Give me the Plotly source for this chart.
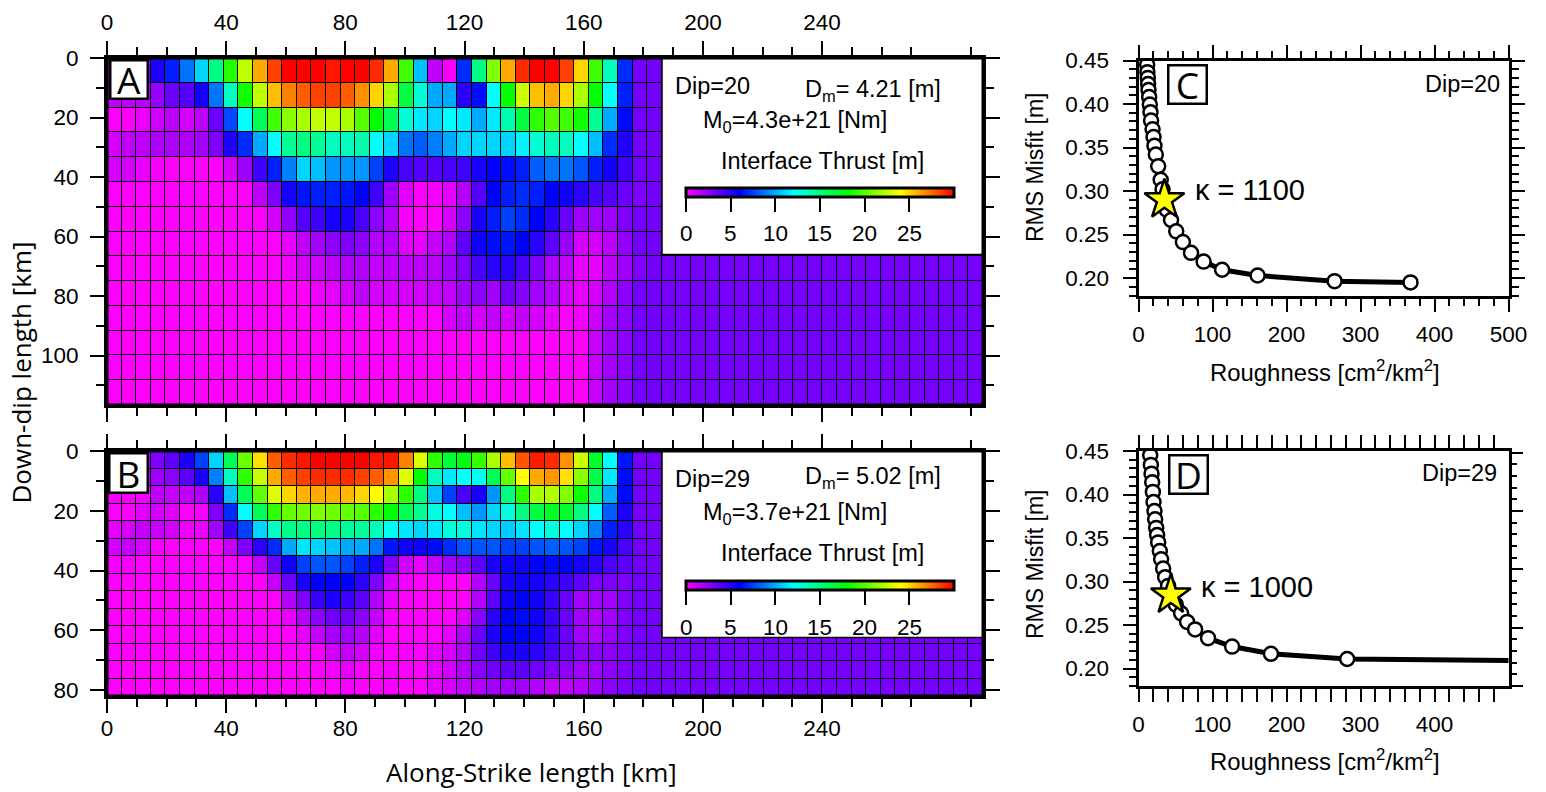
import plotly.graph_objects as go

W, H = 1546, 792

# ---- Slip values [m], 14 rows x 60 columns (cols hidden by insets estimated) ----
slip_A = [
 [1.0,1.0,3.0,5.3,6.7,8.7,11,15,18.8,22.5,26,28.5,30,30,30,29.5,30,30,29,26,19.5,10.5,1.5,0.2,7,15,21,26,29,30,30,28.5,25,19.5,13.5,7,3.3,3.3,3.2,3.2,3.2,3.2,3.2,3.2,3.2,3.2,3.2,3.2,3.2,3.2,3.2,3.2,3.2,3.2,3.2,3.2,3.2,3.2,3.2,3.2],
 [1.5,1.5,1.5,2.5,3.5,4,5.5,8.7,13.5,18.3,22.5,25.5,27,27.8,28.5,28.5,27.8,26.6,25,22,16.5,13,10,10,5,6.3,12,18,22.8,25.5,26,25,22,18,12,6.7,3.3,3.3,3.2,3.2,3.2,3.2,3.2,3.2,3.2,3.2,3.2,3.2,3.2,3.2,3.2,3.2,3.2,3.2,3.2,3.2,3.2,3.2,3.2,3.2],
 [0,0,0.5,1.1,1.5,1,1.5,3.5,7.7,12,16,19.5,21.2,22,22.5,22.5,22,20,18,16,13,11.5,11,12,11.5,10,11.5,14,16.5,19,20,19.5,18.5,14.5,10,6.2,3.3,3.3,3.2,3.2,3.2,3.2,3.2,3.2,3.2,3.2,3.2,3.2,3.2,3.2,3.2,3.2,3.2,3.2,3.2,3.2,3.2,3.2,3.2,3.2],
 [1,1.5,1.5,1.9,1.9,1.9,2.2,3,5.3,7,10,12,14.5,15,14.5,13.5,13.5,14,12,11,8.7,8.2,9,10,11,11,11,11,11.8,13,13.5,13.5,12,10.5,7,5.2,3.3,3.3,3.2,3.2,3.2,3.2,3.2,3.2,3.2,3.2,3.2,3.2,3.2,3.2,3.2,3.2,3.2,3.2,3.2,3.2,3.2,3.2,3.2,3.2],
 [1,1,0.5,0.2,0,0,0,0,1,2.3,4.5,6.7,9,11,10.5,9.5,9.5,9.5,7.5,5.3,4.3,4,4,4.3,4.5,5.4,6,6.3,6.7,8.2,8.7,8.7,8,6.7,5.6,4.5,3.3,3.3,3.2,3.2,3.2,3.2,3.2,3.2,3.2,3.2,3.2,3.2,3.2,3.2,3.2,3.2,3.2,3.2,3.2,3.2,3.2,3.2,3.2,3.2],
 [0,0,0,0,0,0,0,0,0,0,1.5,3,5.5,6.5,6.7,6.7,6.5,6,4.5,2.3,0.7,0,0.2,0.6,1.8,4,6,6.7,7,6.7,6,5.6,5,4.3,4,3.5,3,3.3,3.2,3.2,3.2,3.2,3.2,3.2,3.2,3.2,3.2,3.2,3.2,3.2,3.2,3.2,3.2,3.2,3.2,3.2,3.2,3.2,3.2,3.2],
 [0,0,0,0,0,0,0,0,0,0,0,1,2.6,4,4.5,5.5,5.3,4.3,2.7,1.8,0.2,0,0,1,2.7,5.4,6.7,7.5,7,6,5,3.5,2.3,2.2,2.3,3,3.3,3.3,3.2,3.2,3.2,3.2,3.2,3.2,3.2,3.2,3.2,3.2,3.2,3.2,3.2,3.2,3.2,3.2,3.2,3.2,3.2,3.2,3.2,3.2],
 [0,0,0,0,0,0,0,0,0,0,0,0,0.6,1.5,2.2,2.7,3,2.7,1.8,1.8,0.7,0.6,1.4,1.8,3.8,5.6,6.3,6.5,6,5,3.8,2.4,1,1,1.5,2.6,3.3,3.3,3.2,3.2,3.2,3.2,3.2,3.2,3.2,3.2,3.2,3.2,3.2,3.2,3.2,3.2,3.2,3.2,3.2,3.2,3.2,3.2,3.2,3.2],
 [0,0,0,0,0,0,0,0,0,0,0,0,0.3,1,1.1,1.5,1.8,1.8,1.5,1.5,1.5,1.5,1.6,2.2,3,4.3,5,5,4.3,3,1.8,1.4,0.6,0.6,1.5,2.3,3,3.3,3.2,3.2,3.2,3.2,3.2,3.2,3.2,3.2,3.2,3.2,3.2,3.2,3.2,3.2,3.2,3.2,3.2,3.2,3.2,3.2,3.2,3.2],
 [0,0,0,0,0,0,0,0,0,0,0,0,0,0,0.4,0.6,1,1.5,1,1,1,1,1.3,1.4,2.2,2.7,2.2,3.3,2.9,2.2,1.8,1,0.6,1,1.8,2.7,3.3,3.3,3.2,3.2,3.2,3.2,3.2,3.2,3.2,3.2,3.2,3.2,3.2,3.2,3.2,3.2,3.2,3.2,3.2,3.2,3.2,3.2,3.2,3.2],
 [0,0,0,0,0,0,0,0,0,0,0,0,0,0,0,0,0,0,0,0,0,0,0,1,1.4,1,1.4,1,1.4,1,0.6,0,0.3,1.2,2.2,2.7,3.3,3.3,3.2,3.2,3.2,3.2,3.2,3.2,3.2,3.2,3.2,3.2,3.2,3.2,3.2,3.2,3.2,3.2,3.2,3.2,3.2,3.2,3.2,3.2],
 [0,0,0,0,0,0,0,0,0,0,0,0,0,0,0,0,0,0,0,0,0,0,0,0,0,0,0,0,0,0,0,0,0,1.3,2.2,2.7,3.3,3.3,3.2,3.2,3.2,3.2,3.2,3.2,3.2,3.2,3.2,3.2,3.2,3.2,3.2,3.2,3.2,3.2,3.2,3.2,3.2,3.2,3.2,3.2],
 [0,0,0,0,0,0,0,0,0,0,0,0,0,0,0,0,0,0,0,0,0,0,0,0,0,0,0,0,0,0,0,0,0,1.3,2.2,2.7,3.3,3.3,3.2,3.2,3.2,3.2,3.2,3.2,3.2,3.2,3.2,3.2,3.2,3.2,3.2,3.2,3.2,3.2,3.2,3.2,3.2,3.2,3.2,3.2],
 [0,0,0,0,0,0,0,0,0,0,0,0,0,0,0,0,0,0,0,0,0,0,0,0,0,0,0,0,0,0,0,0,0,1.3,2.2,2.7,3.3,3.3,3.2,3.2,3.2,3.2,3.2,3.2,3.2,3.2,3.2,3.2,3.2,3.2,3.2,3.2,3.2,3.2,3.2,3.2,3.2,3.2,3.2,3.2],
]

slip_B = [
 [1.0,1.0,2.0,3,3.8,5.4,7.5,11,16,20.5,24.7,27.8,29,29.5,30,30,30,30,29.5,29.5,27,23.2,19,16.7,17.6,19.3,22,25.5,28,29.4,29,26.6,22.8,17,12,6.5,3.3,3.3,3.2,3.2,3.2,3.2,3.2,3.2,3.2,3.2,3.2,3.2,3.2,3.2,3.2,3.2,3.2,3.2,3.2,3.2,3.2,3.2,3.2,3.2],
 [1,1,1.5,2.3,2.7,3.9,5.4,9,13.5,19,22.7,26,27.8,28.5,29,29,29,28.5,27.8,26.5,23.2,18,13.5,11.5,12,12.3,16,20.3,24,26,26.5,24.7,21.2,16.3,11.5,6.2,3.3,3.3,3.2,3.2,3.2,3.2,3.2,3.2,3.2,3.2,3.2,3.2,3.2,3.2,3.2,3.2,3.2,3.2,3.2,3.2,3.2,3.2,3.2,3.2],
 [0.2,0.2,0.2,1.5,1.4,1.5,1.9,5,10.5,16,20.3,23.2,25,25.8,26,26,25.7,25,24,22,19,15,10.5,7.5,4.3,5.4,9.5,15,19,22,22.2,21,18.3,15,10,6.2,3.3,3.3,3.2,3.2,3.2,3.2,3.2,3.2,3.2,3.2,3.2,3.2,3.2,3.2,3.2,3.2,3.2,3.2,3.2,3.2,3.2,3.2,3.2,3.2],
 [0,0,0.7,1,0.7,0,0.2,3,7,12,16,19,20.4,20.6,21,20.6,20.3,20,19,18,16,14.5,12.8,12,10.5,9.5,11,12.8,15,16.5,17.2,17,15,12,8.2,5.3,3.3,3.3,3.2,3.2,3.2,3.2,3.2,3.2,3.2,3.2,3.2,3.2,3.2,3.2,3.2,3.2,3.2,3.2,3.2,3.2,3.2,3.2,3.2,3.2],
 [0.6,1,1.4,1.3,1,0.3,0.5,2.2,4.5,7.5,11,13.4,14.8,15,15,14.8,14.4,14.4,13.6,12.3,11.4,11,11.5,12.8,12.8,11.4,11,10.8,11.4,12,12.8,12,11,9,6.7,5,3.3,3.3,3.2,3.2,3.2,3.2,3.2,3.2,3.2,3.2,3.2,3.2,3.2,3.2,3.2,3.2,3.2,3.2,3.2,3.2,3.2,3.2,3.2,3.2],
 [1,1.4,1,0.2,0,0,0,0,1.4,3,5,7,10,11.4,11,10.6,10,10,8.7,6.5,5.7,5.7,6.2,7,8,8,8,7.5,7.5,8,8.2,8,7.5,6.5,5.4,4.3,3.3,3.3,3.2,3.2,3.2,3.2,3.2,3.2,3.2,3.2,3.2,3.2,3.2,3.2,3.2,3.2,3.2,3.2,3.2,3.2,3.2,3.2,3.2,3.2],
 [0.2,0.2,0,0,0,0,0,0,0,0,1.4,3.5,5.7,7.5,8,8,7.5,6.7,5.4,3,1.1,0.6,1.4,2.2,2.7,3.8,5.4,5.7,5.7,6,6.2,6,5.5,5,4.2,3.8,3.3,3.3,3.2,3.2,3.2,3.2,3.2,3.2,3.2,3.2,3.2,3.2,3.2,3.2,3.2,3.2,3.2,3.2,3.2,3.2,3.2,3.2,3.2,3.2],
 [0,0,0,0,0,0,0,0,0,0,0,1.4,3.5,5.4,6,6,6,5,3,1,0.3,0,0,0,0,1.8,3.5,5.4,5.7,5.5,5,4.5,3.8,3,3,3,3.3,3.3,3.2,3.2,3.2,3.2,3.2,3.2,3.2,3.2,3.2,3.2,3.2,3.2,3.2,3.2,3.2,3.2,3.2,3.2,3.2,3.2,3.2,3.2],
 [0,0,0,0,0,0,0,0,0,0,0,0,1.8,3,4.7,5.4,4.6,3.8,1.8,0.6,0,0,0,0,0,1.8,3.8,5.6,6,5.6,4.6,3.5,2.2,2.2,2.2,3,3.3,3.3,3.2,3.2,3.2,3.2,3.2,3.2,3.2,3.2,3.2,3.2,3.2,3.2,3.2,3.2,3.2,3.2,3.2,3.2,3.2,3.2,3.2,3.2],
 [0,0,0,0,0,0,0,0,0,0,0,0,0.6,1.8,2.7,3.4,3.4,2.7,1.4,0.2,0,0,0,0,0.8,2.8,5,6,6.2,5.6,4.6,3.5,2.2,1.8,2.2,3,3.3,3.3,3.2,3.2,3.2,3.2,3.2,3.2,3.2,3.2,3.2,3.2,3.2,3.2,3.2,3.2,3.2,3.2,3.2,3.2,3.2,3.2,3.2,3.2],
 [0,0,0,0,0,0,0,0,0,0,0,0,0,0.6,1.4,2.2,2.2,1.8,0.7,0,0,0,0,0.6,1.8,3.5,5.4,6,6,5.6,4.6,3.5,2.2,1.8,2.3,3,3.3,3.3,3.2,3.2,3.2,3.2,3.2,3.2,3.2,3.2,3.2,3.2,3.2,3.2,3.2,3.2,3.2,3.2,3.2,3.2,3.2,3.2,3.2,3.2],
 [0,0,0,0,0,0,0,0,0,0,0,0,0,0,0.2,1,1.4,1,0.3,0,0.2,0,0.6,1,1.8,3.4,4.5,5.3,5.4,5,4.3,3.4,2.7,2.7,2.7,3,3.3,3.3,3.2,3.2,3.2,3.2,3.2,3.2,3.2,3.2,3.2,3.2,3.2,3.2,3.2,3.2,3.2,3.2,3.2,3.2,3.2,3.2,3.2,3.2],
 [0,0,0,0,0,0,0,0,0,0,0,0,0,0,0,0.2,0.6,0.2,0,0.2,0,0,0.6,1,1.8,2.7,3.4,3.8,3.8,3.4,3,2.7,2.2,2.2,2.6,3,3.3,3.3,3.2,3.2,3.2,3.2,3.2,3.2,3.2,3.2,3.2,3.2,3.2,3.2,3.2,3.2,3.2,3.2,3.2,3.2,3.2,3.2,3.2,3.2],
 [0,0,0,0,0,0,0,0,0,0,0,0,0,0,0,0,0.2,0,0,0.2,0,0,0.6,1,1.4,1.8,2.2,2.2,2.2,1.8,1.4,1.4,1.8,2.2,2.7,3,3.3,3.3,3.2,3.2,3.2,3.2,3.2,3.2,3.2,3.2,3.2,3.2,3.2,3.2,3.2,3.2,3.2,3.2,3.2,3.2,3.2,3.2,3.2,3.2],
]
for r in slip_A + slip_B:
    assert len(r) == 60

# ---- L-curves ----
rough_C  = [9,11.7,12,12.6,13,13.5,14.4,15.3,16.2,17,19,20.3,21.6,23.4,26.6,30,32.5,35,38,44,51,60,71,88,113,161,265,367.6]
misfit_C = [0.47,0.445,0.4366,0.43,0.423,0.416,0.408,0.3994,0.3906,0.381,0.371,0.362,0.352,0.342,0.3285,0.313,0.302,0.29,0.2786,0.2667,0.2537,0.2414,0.229,0.219,0.2096,0.203,0.1965,0.195]
rough_D  = [13,15.8,16.7,17.6,18.5,19.4,20.3,21.6,22.5,23.9,25.2,26.6,28.8,30.6,33.3,36,40,43.7,50.4,57.6,65.7,76.5,94,126.5,179,282,540]
misfit_D = [0.47,0.445,0.434,0.424,0.414,0.403,0.3914,0.381,0.3715,0.3616,0.3535,0.345,0.335,0.3256,0.315,0.305,0.295,0.2846,0.2735,0.2635,0.2536,0.245,0.235,0.2253,0.217,0.211,0.209]
star_C = (35, 0.29)
star_D = (43.7, 0.2846)

xticks_map = [0, 40, 80, 120, 160, 200, 240]
xminor_map = [10, 20, 30, 50, 60, 70, 90, 100, 110, 130, 140, 150, 170, 180, 190, 210, 220, 230, 250, 260, 270, 290]
yticks_A = [0, 20, 40, 60, 80, 100]
yminor_A = [10, 30, 50, 70, 90, 110]
yticks_B = [0, 20, 40, 60, 80]
yminor_B = [10, 30, 50, 70]
cbar_ticks = [0, 5, 10, 15, 20, 25]

colors = [[0, "#ff00ff"], [0.2, "#0000ff"], [0.4, "#00ffff"], [0.6, "#00ff00"], [0.8, "#ffff00"], [1, "#ff0000"]]
SANS = "Liberation Sans"
LOGO = "Open Sans"
XMAX, YMAX_A, YMAX_B = 294.0, 116.6, 82.0


def px(x):
    return x / W


def py(y):
    return 1 - y / H


fig = go.Figure()
xc = [(i + 0.5) * XMAX / 60 for i in range(60)]
fig.add_trace(go.Heatmap(z=slip_A, x=xc, y=[(j + 0.5) * YMAX_A / 14 for j in range(14)], coloraxis="coloraxis",
                         xgap=1, ygap=1, xaxis="x", yaxis="y", hoverinfo="skip"))
fig.add_trace(go.Heatmap(z=slip_B, x=xc, y=[(j + 0.5) * YMAX_B / 14 for j in range(14)], coloraxis="coloraxis2",
                         xgap=1, ygap=1, xaxis="x2", yaxis="y2", hoverinfo="skip"))


def curve(xs, ys, star, xa, ya):
    fig.add_trace(go.Scatter(x=xs, y=ys, mode="lines", line=dict(color="black", width=5), xaxis=xa, yaxis=ya))
    fig.add_trace(go.Scatter(x=xs, y=ys, mode="markers", xaxis=xa, yaxis=ya,
                             marker=dict(size=14, color="white", line=dict(color="black", width=2.5))))
    fig.add_trace(go.Scatter(x=[star[0]], y=[star[1]], mode="markers", xaxis=xa, yaxis=ya,
                             marker=dict(symbol="star", size=30, color="#ffff00", line=dict(color="black", width=2.5))))


curve(rough_C, misfit_C, star_C, "x3", "y3")
curve(rough_D, misfit_D, star_D, "x4", "y4")
# invisible trace that carries panel D's independent right-hand tick scale
fig.add_trace(go.Scatter(x=[0], y=[0], mode="markers", marker=dict(opacity=0), xaxis="x4", yaxis="y5", hoverinfo="skip"))

base = dict(showline=True, linewidth=3, linecolor="black", showgrid=False, zeroline=False, ticks="outside",
            tickcolor="black", tickwidth=1.5, ticklen=14, tickfont=dict(family=SANS, size=22.5, color="black"),
            mirror="allticks", tickmode="array")


def minor(vals, n=8):
    return dict(tickmode="array", tickvals=vals, ticks="outside", ticklen=n, tickwidth=1.5, tickcolor="black", showgrid=False)


def mapx(x0, x1, side, standoff, anchor):
    return dict(base, domain=[px(x0), px(x1)], range=[0, XMAX], tickvals=xticks_map, minor=minor(xminor_map),
                side=side, ticklabelstandoff=standoff, anchor=anchor)


def mapy(y0, y1, ymax, vals, mvals, anchor):
    return dict(base, domain=[py(y1), py(y0)], range=[ymax, 0], tickvals=vals, minor=minor(mvals), ticklabelstandoff=7,
                anchor=anchor)


c_x = [i * 20 for i in range(26)]
c_y = [round(0.18 + i * 0.01, 2) for i in range(28)]
c_major_y = [0.20, 0.25, 0.30, 0.35, 0.40, 0.45]
c_minor_y = [v for v in c_y if v not in c_major_y]


def lcx(ticks, anchor):
    return dict(base, domain=[px(1138.5), px(1508.5)], range=[0, 500], tickvals=ticks,
                minor=minor([v for v in c_x if v % 100 != 0], 7), ticklabelstandoff=3, anchor=anchor, ticklen=13)


def lcy(y0, y1, anchor, **kw):
    d = dict(base, domain=[py(y1), py(y0)], range=[0.18, 0.45], tickvals=c_major_y, ticktext=["%.2f" % v for v in c_major_y],
             minor=minor(c_minor_y, 7), ticklabelstandoff=9, anchor=anchor, ticklen=13)
    d.update(kw)
    return d


def cbar(y):
    return dict(orientation="h", x=px(686), xanchor="left", y=py(y), yanchor="top", len=268, lenmode="pixels",
                thickness=9, thicknessmode="pixels", outlinewidth=3, outlinecolor="black", xpad=0, ypad=0,
                tickmode="array", tickvals=cbar_ticks, ticks="outside", ticklen=14, tickwidth=1.5, tickcolor="black",
                showticklabels=False)


notes = []


def note(text, x, y, size=20, family=SANS, angle=0, **kw):
    notes.append(dict(text=text, x=px(x), y=py(y), xref="paper", yref="paper", showarrow=False, xanchor="center",
                      yanchor="middle", textangle=angle, font=dict(family=family, size=size, color="black"), **kw))


def box(letter, x0, x1, y0, y1):
    notes.append(dict(text=letter, x=px((x0 + x1) / 2), y=py((y0 + y1) / 2), xref="paper", yref="paper", showarrow=False,
                      xanchor="center", yanchor="middle", width=x1 - x0 - 4, height=y1 - y0 - 4, bgcolor="white",
                      bordercolor="black", borderwidth=2.5, borderpad=0,
                      font=dict(family=LOGO, size=37, color="black")))


box("A", 109, 148, 60, 100)
box("B", 108, 148, 452, 493)
box("C", 1167, 1207, 64, 104)
box("D", 1168, 1208, 455, 495)


def inset(dip, dm, m0, yd, ydm, ym, yt, ytick):
    note("Dip=%d" % dip, 712, yd, 23.5)
    note("D<sub>m</sub>= %s [m]" % dm, 873, ydm, 23.5)
    note("M<sub>0</sub>=%s [Nm]" % m0, 795, ym, 23.5)
    note("Interface Thrust [m]", 822, yt, 23.5)
    for v in cbar_ticks:
        note(str(v), 686 + v * 268 / 30, ytick, 22.5)


inset(20, "4.21", "4.3e+21", 86, 90, 122, 161, 234)
inset(29, "5.02", "3.7e+21", 479, 477, 513, 553, 627)
note("Down-dip length [km]", 20, 372.5, 26, LOGO, -90)
note("Along-Strike length [km]", 531, 772, 26, LOGO)
note("RMS Misfit [m]", 1035, 167, 23, SANS, -90)
note("RMS Misfit [m]", 1035, 564, 23, SANS, -90)
note("Roughness [cm<sup>2</sup>/km<sup>2</sup>]", 1325, 371, 23.9)
note("Roughness [cm<sup>2</sup>/km<sup>2</sup>]", 1325, 760, 23.9)
note("Dip=20", 1462, 84, 23.5)
note("Dip=29", 1459, 473, 23.5)
note("κ = 1100", 1250, 190, 29)
note("κ = 1000", 1257, 587, 29)

shapes = []
for xa, ya in (("x", "y"), ("x2", "y2")):
    shapes.append(dict(type="rect", xref=xa + " domain", yref=ya + " domain", x0=0, x1=1, y0=0, y1=1,
                       fillcolor="black", line=dict(width=0), layer="below"))
shapes.append(dict(type="rect", xref="paper", yref="paper", x0=px(662), x1=px(983), y0=py(254.5), y1=py(58),
                   fillcolor="white", line=dict(color="black", width=1.5), layer="above"))
shapes.append(dict(type="rect", xref="paper", yref="paper", x0=px(662), x1=px(983), y0=py(637.5), y1=py(451),
                   fillcolor="white", line=dict(color="black", width=1.5), layer="above"))
for xa, ya in (("x", "y"), ("x2", "y2")):
    shapes.append(dict(type="rect", xref=xa + " domain", yref=ya + " domain", x0=0, x1=1, y0=0, y1=1,
                       fillcolor="rgba(0,0,0,0)", line=dict(color="black", width=3), layer="above"))

fig.update_layout(
    width=W, height=H, margin=dict(l=0, r=0, t=0, b=0, autoexpand=False), paper_bgcolor="white", plot_bgcolor="white",
    showlegend=False,
    coloraxis=dict(colorscale=colors, cmin=0, cmax=30, colorbar=cbar(188)),
    coloraxis2=dict(colorscale=colors, cmin=0, cmax=30, colorbar=cbar(581)),
    xaxis=mapx(107, 983, "top", 2, "y"),
    yaxis=mapy(58, 405, YMAX_A, yticks_A, yminor_A, "x"),
    xaxis2=mapx(107, 983, "bottom", -4, "y2"),
    yaxis2=mapy(451, 696, YMAX_B, yticks_B, yminor_B, "x2"),
    xaxis3=lcx([0, 100, 200, 300, 400, 500], "y3"),
    yaxis3=lcy(60.5, 295.5, "x3"),
    xaxis4=lcx([0, 100, 200, 300, 400], "y4"),
    yaxis4=lcy(451, 686, "x4", mirror=True),
    yaxis5=dict(overlaying="y4", side="right", anchor="x4", range=[0, 4.03], showgrid=False, zeroline=False,
                showticklabels=False, ticks="outside", ticklen=13, tickwidth=1.5, tickcolor="black",
                tickmode="array", tickvals=[0, 1, 2, 3, 4],
                minor=minor([v / 5 for v in range(0, 21) if v % 5 != 0], 7)),
    annotations=notes, shapes=shapes,
)
fig.update_xaxes(tickformat="d")

fig.write_html("out.html", config={"displayModeBar": False},
               post_script="document.body.style.margin='0';document.body.style.overflow='hidden';")
